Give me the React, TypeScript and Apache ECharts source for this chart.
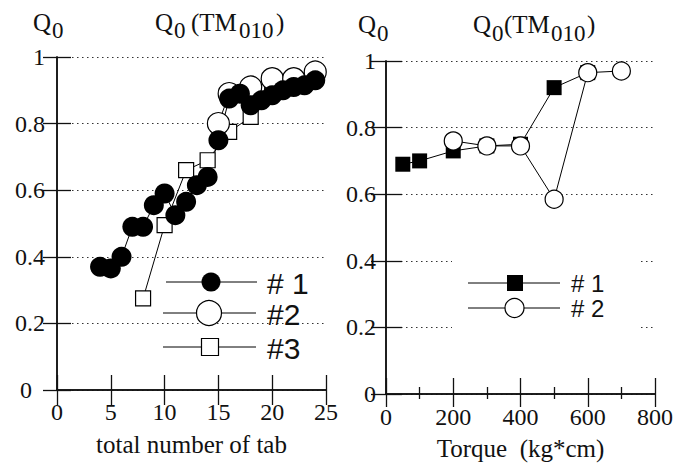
import React, { useEffect, useRef } from 'react';
import * as echarts from 'echarts';

// Left panel: Q0 vs total number of tab
const tabCount1 = [4, 5, 6, 7, 8, 9, 10, 11, 12, 13, 14, 15, 16, 17, 18, 19, 20, 21, 22, 23, 24];
const q0Tab1 = [0.37, 0.365, 0.40, 0.49, 0.49, 0.555, 0.59, 0.525, 0.565, 0.615, 0.64, 0.75, 0.875, 0.89, 0.855, 0.87, 0.885, 0.90, 0.91, 0.915, 0.93];
const tabCount2 = [15, 16, 18, 20, 22, 24];
const q0Tab2 = [0.80, 0.89, 0.91, 0.935, 0.935, 0.955];
const tabCount3 = [8, 10, 12, 14, 16, 18, 20];
const q0Tab3 = [0.275, 0.495, 0.66, 0.69, 0.775, 0.82, 0.925];

// Right panel: Q0 vs torque
const torque1 = [50, 100, 200, 300, 400, 500, 600];
const q0Torque1 = [0.69, 0.70, 0.73, 0.745, 0.75, 0.92, 0.965];
const torque2 = [200, 300, 400, 500, 600, 700];
const q0Torque2 = [0.76, 0.745, 0.745, 0.585, 0.965, 0.97];

const leftLegend = ['# 1', '#2', '#3'];
const rightLegend = ['# 1', '# 2'];

const SERIF = 'Liberation Serif';
const SANS = 'Liberation Sans';
const INK = '#111';

const zip = (xs: number[], ys: number[]) => xs.map((x, i) => [x, ys[i]]);

const frameLine = { show: true, lineStyle: { color: INK, width: 1.5 } };
const dotted = { show: true, lineStyle: { color: '#333', width: 1.2, type: [1.5, 3.5] as any } };
const labelStyle = { color: INK, fontFamily: SERIF, fontSize: 24 };

function title(parts: { t: string; x: number; sub?: boolean }[], yMain: number, ySub: number) {
  return parts.map((p) => ({
    type: 'text',
    z: 20,
    style: {
      text: p.t,
      x: p.x,
      y: p.sub ? ySub : yMain,
      fill: INK,
      fontFamily: SERIF,
      fontSize: p.sub ? 23 : 25,
      textAlign: 'left',
      textVerticalAlign: 'middle',
    },
  }));
}

export default function App() {
  const ref = useRef<HTMLDivElement>(null);
  useEffect(() => {
    const chart = echarts.init(ref.current!, null, { renderer: 'svg' });
    const openSym = { color: '#fff', borderColor: '#000', borderWidth: 1.2 };
    const line = { color: '#000', width: 1 };
    const legendLine = { stroke: '#000', lineWidth: 1 };
    const option: any = {
      animation: false,
      textStyle: { fontFamily: SERIF },
      grid: [
        { left: 57, top: 57, width: 269, height: 333 },
        { left: 386, top: 61, width: 269, height: 333 },
      ],
      xAxis: [
        {
          gridIndex: 0, type: 'value', min: 0, max: 25, interval: 5, position: 'bottom',
          axisLine: frameLine, axisTick: { inside: true, length: 15, lineStyle: { color: INK, width: 1.3 } },
          axisLabel: { ...labelStyle, margin: 10 }, splitLine: { show: false },
          name: 'total number of tab', nameLocation: 'middle', nameGap: 42,
          nameTextStyle: { color: INK, fontFamily: SERIF, fontSize: 25 },
        },
        {
          gridIndex: 0, type: 'value', min: 0, max: 25, interval: 5, position: 'top',
          axisLine: frameLine, axisTick: { inside: true, length: 15, lineStyle: { color: INK, width: 1.3 } },
          axisLabel: { show: false }, splitLine: { show: false },
        },
        {
          gridIndex: 1, type: 'value', min: 0, max: 800, interval: 200, position: 'bottom',
          axisLine: frameLine, axisTick: { inside: true, length: 16, lineStyle: { color: INK, width: 1.3 } },
          minorTick: { show: true, splitNumber: 2, length: 7, lineStyle: { color: INK, width: 1.3 } },
          axisLabel: { ...labelStyle, margin: 11 }, splitLine: { show: false },
          name: 'Torque  (kg*cm)', nameLocation: 'middle', nameGap: 42,
          nameTextStyle: { color: INK, fontFamily: SERIF, fontSize: 25 },
        },
        {
          gridIndex: 1, type: 'value', min: 0, max: 800, interval: 200, position: 'top',
          axisLine: frameLine, axisTick: { inside: true, length: 13, lineStyle: { color: INK, width: 1.3 } },
          minorTick: { show: true, splitNumber: 2, length: 5, lineStyle: { color: INK, width: 1.3 } },
          axisLabel: { show: false }, splitLine: { show: false },
        },
      ],
      yAxis: [
        {
          gridIndex: 0, type: 'value', min: 0, max: 1, interval: 0.2, position: 'left',
          axisLine: frameLine, axisTick: { inside: true, length: 14, lineStyle: { color: INK, width: 1.3 } },
          axisLabel: {
            ...labelStyle, margin: 12,
            formatter: (v: number) => (v === 0 ? '{z|0}' : String(Math.round(v * 10) / 10)),
            rich: { z: { fontFamily: SERIF, fontSize: 24, color: INK, padding: [0, 13, 0, 0] } },
          },
          splitLine: dotted,
        },
        {
          gridIndex: 0, type: 'value', min: 0, max: 1, interval: 0.2, position: 'right',
          axisLine: frameLine, axisTick: { inside: true, length: 14, lineStyle: { color: INK, width: 1.3 } },
          axisLabel: { show: false }, splitLine: { show: false },
        },
        {
          gridIndex: 1, type: 'value', min: 0, max: 1, interval: 0.2, position: 'left',
          axisLine: frameLine, axisTick: { inside: true, length: 16, lineStyle: { color: INK, width: 1.3 } },
          axisLabel: { ...labelStyle, margin: 10 },
          splitLine: dotted,
        },
        {
          gridIndex: 1, type: 'value', min: 0, max: 1, interval: 0.2, position: 'right',
          axisLine: frameLine, axisTick: { inside: true, length: 15, lineStyle: { color: INK, width: 1.3 } },
          axisLabel: { show: false }, splitLine: { show: false },
        },
      ],
      series: [
        {
          name: '#3', type: 'line', xAxisIndex: 0, yAxisIndex: 0, data: zip(tabCount3, q0Tab3),
          symbol: 'rect', symbolSize: 15, itemStyle: openSym, lineStyle: line,
        },
        {
          name: '#2', type: 'line', xAxisIndex: 0, yAxisIndex: 0, data: zip(tabCount2, q0Tab2),
          symbol: 'circle', symbolSize: 22, itemStyle: openSym, lineStyle: line,
        },
        {
          name: '#1', type: 'line', xAxisIndex: 0, yAxisIndex: 0, data: zip(tabCount1, q0Tab1),
          symbol: 'circle', symbolSize: 20, itemStyle: { color: '#000' }, lineStyle: line,
        },
        {
          name: 'T1', type: 'line', xAxisIndex: 2, yAxisIndex: 2, data: zip(torque1, q0Torque1),
          symbol: 'rect', symbolSize: 15, itemStyle: { color: '#000' }, lineStyle: line,
        },
        {
          name: 'T2', type: 'line', xAxisIndex: 2, yAxisIndex: 2, data: zip(torque2, q0Torque2),
          symbol: 'circle', symbolSize: 18, itemStyle: openSym, lineStyle: line,
        },
      ],
      graphic: [
        ...title([{ t: 'Q', x: 33 }, { t: '0', x: 52, sub: true }], 22, 30),
        ...title([
          { t: 'Q', x: 155 }, { t: '0', x: 174, sub: true },
          { t: '(TM', x: 191 }, { t: '010', x: 239, sub: true }, { t: ')', x: 276 },
        ], 22, 30),
        ...title([{ t: 'Q', x: 358 }, { t: '0', x: 377, sub: true }], 24, 33),
        ...title([
          { t: 'Q', x: 473 }, { t: '0', x: 492, sub: true },
          { t: '(TM', x: 504 }, { t: '010', x: 551, sub: true }, { t: ')', x: 587 },
        ], 24, 33),
        // left legend
        { type: 'line', z: 20, shape: { x1: 166, y1: 282, x2: 257, y2: 282 }, style: legendLine },
        { type: 'circle', z: 21, shape: { cx: 211, cy: 282, r: 9.5 }, style: { fill: '#000' } },
        { type: 'line', z: 20, shape: { x1: 163, y1: 313, x2: 256, y2: 313 }, style: legendLine },
        { type: 'circle', z: 21, shape: { cx: 209, cy: 313, r: 12.5 }, style: { fill: '#fff', stroke: '#000', lineWidth: 1.2 } },
        { type: 'line', z: 20, shape: { x1: 163, y1: 347, x2: 256, y2: 347 }, style: legendLine },
        { type: 'rect', z: 21, shape: { x: 201.5, y: 338.5, width: 17, height: 17 }, style: { fill: '#fff', stroke: '#000', lineWidth: 1.2 } },
        ...leftLegend.map((t, i) => ({
          type: 'text', z: 21,
          style: { text: t, x: 267, y: [283, 314, 348][i], fill: INK, fontFamily: SANS, fontSize: 30, textAlign: 'left', textVerticalAlign: 'middle' },
        })),
        // right legend
        { type: 'rect', z: 15, shape: { x: 452, y: 250, width: 187, height: 85 }, style: { fill: '#fff' } },
        { type: 'line', z: 20, shape: { x1: 468, y1: 283, x2: 560, y2: 283 }, style: legendLine },
        { type: 'rect', z: 21, shape: { x: 507, y: 275, width: 16, height: 16 }, style: { fill: '#000' } },
        { type: 'line', z: 20, shape: { x1: 468, y1: 308, x2: 560, y2: 308 }, style: legendLine },
        { type: 'circle', z: 21, shape: { cx: 514.5, cy: 308, r: 9.5 }, style: { fill: '#fff', stroke: '#000', lineWidth: 1.2 } },
        ...rightLegend.map((t, i) => ({
          type: 'text', z: 21,
          style: { text: t, x: 571, y: [283, 308][i], fill: INK, fontFamily: SANS, fontSize: 24, textAlign: 'left', textVerticalAlign: 'middle' },
        })),
      ],
    };
    chart.setOption(option);
    return () => chart.dispose();
  }, []);
  return <div ref={ref} style={{ position: 'fixed', left: 0, top: 0, width: 686, height: 468, background: '#fff' }} />;
}
